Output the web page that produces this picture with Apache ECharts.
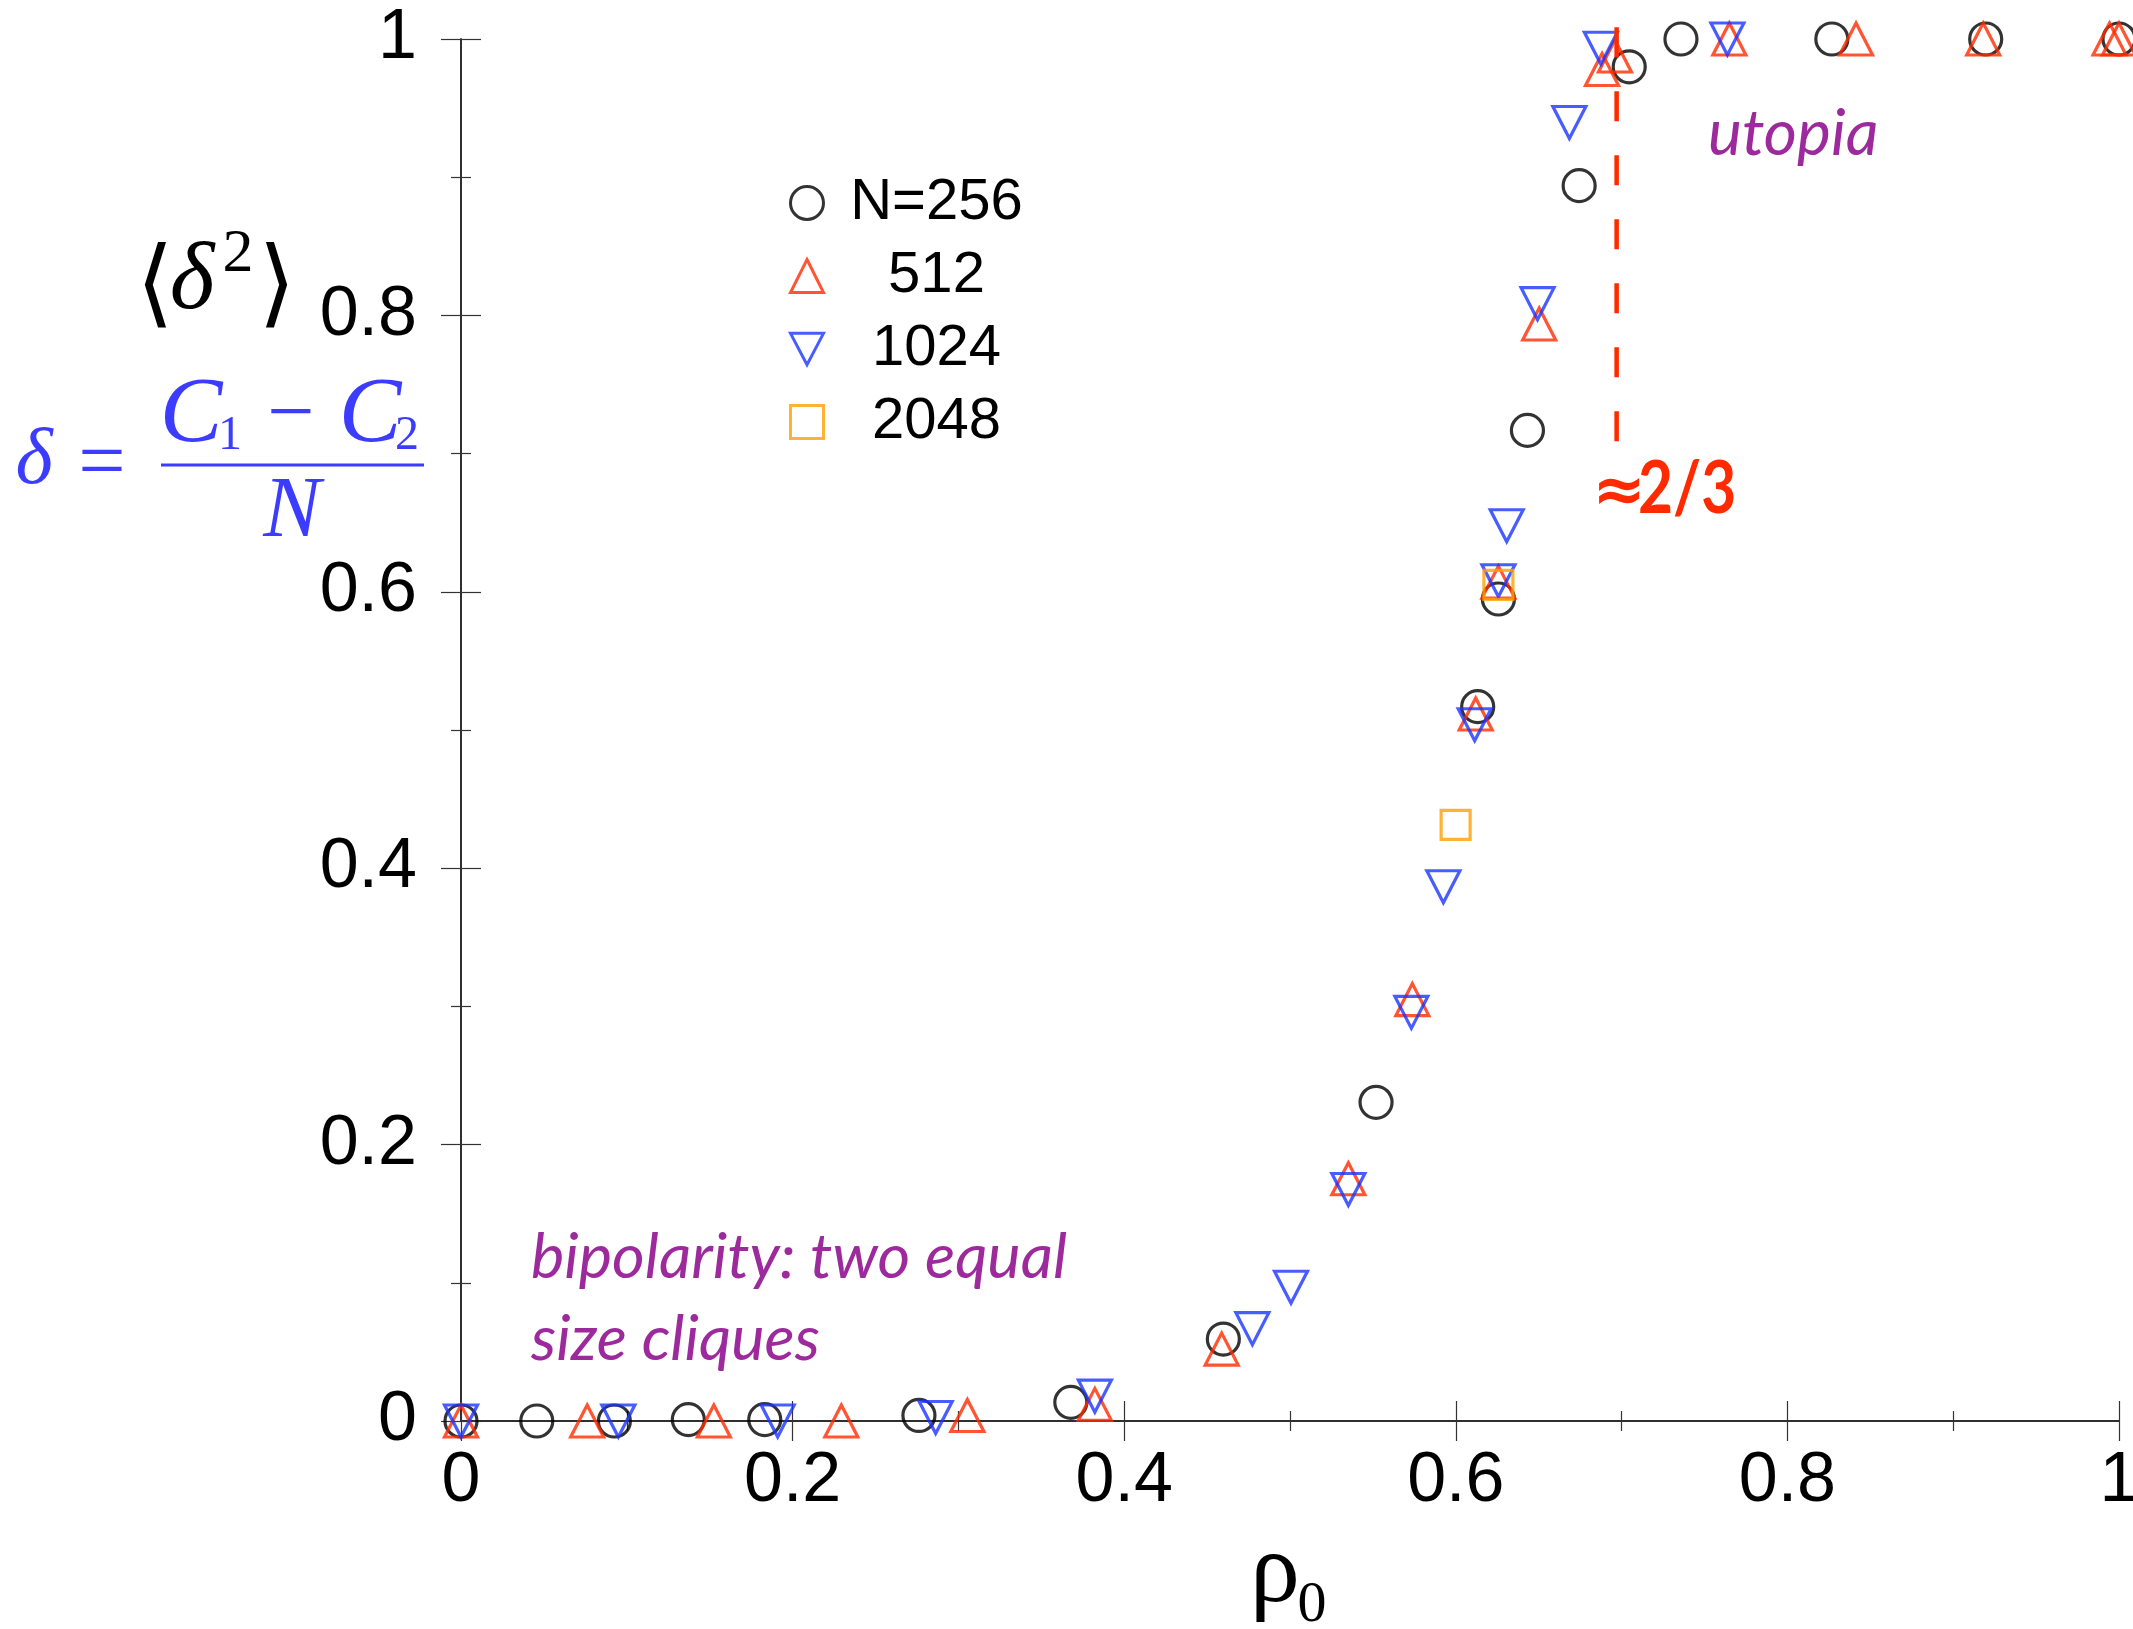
<!DOCTYPE html>
<html>
<head>
<meta charset="utf-8">
<script src="https://cdn.jsdelivr.net/npm/echarts@6/dist/echarts.min.js"></script>
<style>
  html, body { margin: 0; padding: 0; background: #fff; }
  #chart { width: 2133px; height: 1629px; }
</style>
</head>
<body>
<div id="chart"></div>
<script>
// values, [rho0, <delta^2>]
const n256 = [
  [0, 0], [0.0457, 0], [0.0925, 0], [0.1371, 0.001], [0.1832, 0.001],
  [0.2762, 0.004], [0.3678, 0.0135], [0.4598, 0.0593], [0.5519, 0.2306],
  [0.6132, 0.5169], [0.6257, 0.5948], [0.6432, 0.7168], [0.6744, 0.8939],
  [0.7046, 0.9799], [0.7358, 1], [0.8268, 1], [0.9196, 1], [1, 1]
];
const n512 = [
  [0, 0], [0.0761, 0], [0.1525, 0], [0.2294, 0], [0.3054, 0.004],
  [0.3823, 0.012], [0.4588, 0.052], [0.5352, 0.1753], [0.5738, 0.3049],
  [0.612, 0.5116], [0.6257, 0.607], [0.6503, 0.7938], [0.6882, 0.9779],
  [0.696, 0.9877], [0.765, 1], [0.8414, 1], [0.9181, 1], [0.9943, 1], [1, 1]
];
const n1024 = [
  [0, 0], [0.0949, 0], [0.191, 0], [0.2863, 0.0025], [0.3823, 0.018],
  [0.4773, 0.0668], [0.5006, 0.0968], [0.5352, 0.1675], [0.5732, 0.2957],
  [0.5925, 0.3866], [0.6114, 0.5038], [0.6257, 0.608], [0.6307, 0.6478],
  [0.6493, 0.8085], [0.6685, 0.9396], [0.6875, 0.9933], [0.7638, 1]
];
const n2048 = [[0.5999, 0.4313], [0.6257, 0.605]];
// dashed marker of the transition, drawn from the top down
const transitionLine = [[0.697, 1.0085], [0.697, 0.7077]];

const legendNames = ['N=256', '512', '1024', '2048'];
const xTicks = [0, 1, 0.2]; // min, max, interval
const yTicks = [0, 1, 0.2];

const RED = '#ff2a00';
const BLUE = '#1a35ff';
const ORANGE = '#ffa000';
const PURPLE = '#9c2a9c';
const FORMULA = '#3c3cff';
const downTri = 'path://M0,0L20,0L10,19Z';

const chart = echarts.init(document.getElementById('chart'));

const axisCommon = {
  type: 'value',
  splitLine: { show: false },
  axisLine: { show: true, lineStyle: { color: '#222', width: 1.5 } },
  axisTick: { show: true, inside: true, length: 20, lineStyle: { color: '#333', width: 1.2 } },
  minorTick: { show: true, splitNumber: 2, length: 10, lineStyle: { color: '#333', width: 1.2 } }
};
const labelStyle = {
  color: '#000',
  fontFamily: 'Liberation Sans',
  fontSize: 70
};

function scatter(name, data, symbol, size, color) {
  return {
    name: name,
    type: 'scatter',
    data: data,
    symbol: symbol,
    symbolSize: size,
    clip: false,
    itemStyle: { color: 'rgba(0,0,0,0)', borderColor: color, borderWidth: 3.2 },
    emphasis: { disabled: true }
  };
}

// a text piece drawn with the graphic component
function txt(text, x, y, font, fill, align) {
  return {
    type: 'text',
    style: {
      text: text, x: x, y: y, font: font, fill: fill,
      textAlign: align || 'center', textVerticalAlign: 'middle'
    }
  };
}

const option = {
  animation: false,
  backgroundColor: '#fff',
  grid: { left: 461, right: 14, top: 39, bottom: 208, outerBoundsMode: 'none' },
  xAxis: [
    Object.assign({}, axisCommon, {
      position: 'bottom', min: xTicks[0], max: xTicks[1], interval: xTicks[2],
      axisLabel: Object.assign({ margin: 26 }, labelStyle)
    }),
    Object.assign({}, axisCommon, {
      position: 'top', min: xTicks[0], max: xTicks[1], interval: xTicks[2],
      axisLabel: { show: false }
    })
  ],
  yAxis: [
    Object.assign({}, axisCommon, {
      position: 'left', min: yTicks[0], max: yTicks[1], interval: yTicks[2],
      axisLabel: Object.assign({ margin: 44 }, labelStyle)
    }),
    Object.assign({}, axisCommon, {
      position: 'right', min: yTicks[0], max: yTicks[1], interval: yTicks[2],
      axisLabel: { show: false }
    })
  ],
  legend: {
    data: legendNames,
    orient: 'vertical',
    left: 784,
    top: 169,
    itemWidth: 33,
    itemHeight: 33,
    itemGap: 15,
    selectedMode: false,
    itemStyle: { borderWidth: 3 },
    formatter: function (name) { return '{t|' + name + '}'; },
    textStyle: {
      rich: {
        t: {
          width: 216, align: 'center', fontSize: 58, lineHeight: 58,
          fontFamily: 'Liberation Sans', color: '#000'
        }
      }
    }
  },
  series: [
    scatter(legendNames[0], n256, 'circle', 32, '#000'),
    scatter(legendNames[1], n512, 'triangle', [33, 32], RED),
    scatter(legendNames[2], n1024, downTri, [33, 32], BLUE),
    scatter(legendNames[3], n2048, 'rect', 29, ORANGE),
    {
      type: 'line',
      data: transitionLine,
      showSymbol: false,
      clip: false,
      silent: true,
      lineStyle: { color: RED, width: 4.5, type: [30, 34] }
    }
  ],
  graphic: [
    // annotations
    txt('utopia', 1708, 134, 'italic 64px Lato', PURPLE, 'left'),
    txt('bipolarity: two equal', 531, 1258, 'italic 63px Lato', PURPLE, 'left'),
    txt('size cliques', 531, 1340, 'italic 63px Lato', PURPLE, 'left'),
    txt('\u2248', 1619, 494, 'bold 64px "DejaVu Sans"', RED),
    {
      // condensed like the original face
      type: 'text',
      x: 1638,
      y: 490,
      scaleX: 0.84,
      style: {
        text: '2/3', x: 0, y: 0, font: 'bold 72px Lato', fill: RED,
        textAlign: 'left', textVerticalAlign: 'middle'
      }
    },
    // y axis title <delta^2>
    txt('\u27E8', 155, 290, '96px "DejaVu Serif"', '#000'),
    txt('\u03B4', 192, 283, 'italic 96px "Liberation Serif"', '#000'),
    txt('2', 238, 255, '62px "Liberation Serif"', '#000'),
    txt('\u27E9', 277, 290, '96px "DejaVu Serif"', '#000'),
    // delta = (C1 - C2) / N
    txt('\u03B4', 34, 462, 'italic 80px "Liberation Serif"', FORMULA),
    txt('=', 102, 467, '84px "Liberation Serif"', FORMULA),
    txt('C', 191, 416, 'italic 94px "Liberation Serif"', FORMULA),
    txt('1', 230, 436, '48px "Liberation Serif"', FORMULA),
    txt('\u2212', 291, 417, '84px "Liberation Serif"', FORMULA),
    txt('C', 370, 416, 'italic 94px "Liberation Serif"', FORMULA),
    txt('2', 407, 436, '48px "Liberation Serif"', FORMULA),
    {
      type: 'line',
      shape: { x1: 161, y1: 465, x2: 424, y2: 465 },
      style: { stroke: FORMULA, lineWidth: 3 }
    },
    txt('N', 292, 513, 'italic 86px "Liberation Serif"', FORMULA),
    // x axis title rho_0
    txt('\u03C1', 1275, 1575, '100px "Liberation Serif"', '#000'),
    txt('0', 1312, 1606, '58px "Liberation Serif"', '#000')
  ]
};

chart.setOption(option);
</script>
</body>
</html>
